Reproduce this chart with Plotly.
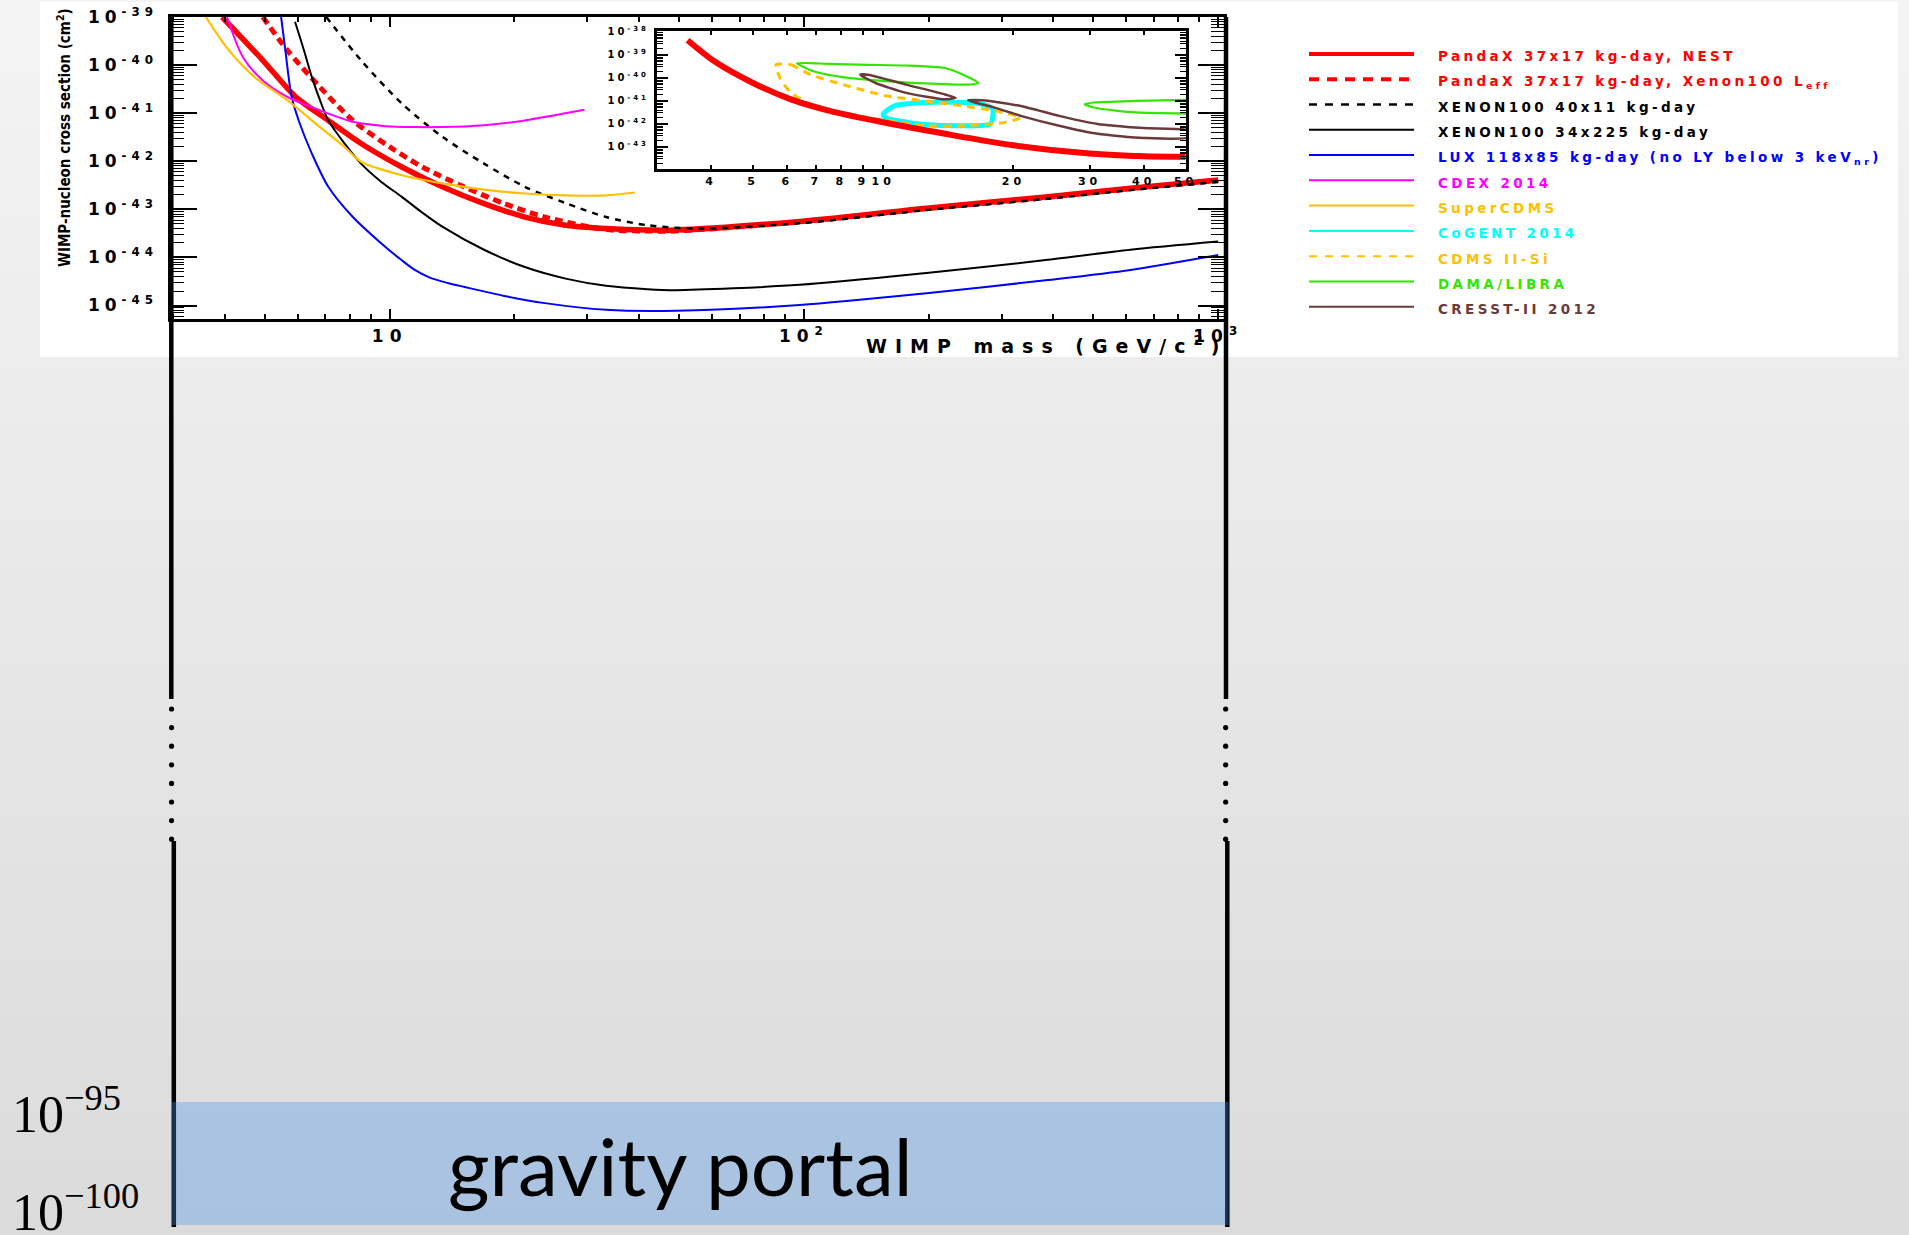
import plotly.graph_objects as go

W, H = 1909, 1235

# ---------------- main panel: WIMP mass [GeV/c^2] vs log10(cross-section [cm^2]) ----------------
NEST_MASS = [3.94, 4.94, 5.93, 7.11, 8.53, 10.7, 13.4, 16.9, 21.2, 26.6, 33.3, 41.9, 49, 97.7, 195, 388, 614, 1000]
NEST_LOGXS = [-39.0, -39.9, -40.66, -41.15, -41.63, -42.12, -42.53, -42.88, -43.16, -43.33, -43.40, -43.43,
              -43.43, -43.25, -42.98, -42.74, -42.56, -42.39]

LEFF_MASS = [4.94, 5.66, 6.79, 8.15, 10.0, 12.0, 15.1, 18.9, 23.7, 33.3, 41.9, 49, 97.7, 195, 388, 614, 1000]
LEFF_LOGXS = [-39.0, -39.69, -40.46, -41.15, -41.70, -42.12, -42.53, -42.88, -43.16, -43.42, -43.45, -43.45,
              -43.26, -42.99, -42.75, -42.57, -42.40]

X100A_MASS = [7.03, 8.53, 10.7, 13.4, 16.9, 21.2, 26.6, 33.3, 41.9, 55, 97.7, 195, 388, 614, 1000]
X100A_LOGXS = [-39.0, -39.90, -40.80, -41.49, -42.05, -42.53, -42.87, -43.16, -43.33, -43.40, -43.29, -43.02,
               -42.78, -42.60, -42.43]

X100B_MASS = [5.91, 6.21, 6.49, 6.79, 7.11, 7.78, 8.53, 9.55, 10.7, 12.0, 13.4, 16.9, 21.2, 26.6, 33.3, 41.9,
              49, 97.7, 195, 388, 614, 1000]
X100B_LOGXS = [-39.10, -39.69, -40.25, -40.73, -41.15, -41.63, -42.05, -42.43, -42.74, -43.07, -43.36, -43.84,
               -44.20, -44.44, -44.59, -44.66, -44.68, -44.57, -44.33, -44.05, -43.84, -43.67]

LUX_MASS = [5.47, 5.6, 5.8, 6.07, 6.49, 7.11, 8.15, 9.55, 10.7, 11.5, 12.5, 13.8, 15.1, 18.9, 23.7, 33.3, 49,
            97.7, 195, 388, 614, 1000]
LUX_LOGXS = [-39.0, -39.69, -40.66, -41.22, -41.84, -42.53, -43.16, -43.71, -44.06, -44.26, -44.42, -44.53,
             -44.61, -44.80, -44.95, -45.09, -45.11, -44.99, -44.75, -44.47, -44.26, -43.95]

CDEX_MASS = [4.05, 4.42, 4.94, 5.66, 6.79, 8.15, 9.8, 11.5, 13.4, 16.9, 21.2, 29.5]
CDEX_LOGXS = [-39.0, -39.83, -40.32, -40.66, -40.94, -41.18, -41.27, -41.29, -41.29, -41.25, -41.15, -40.93]

SCDMS_MASS = [3.6, 4.03, 4.72, 5.66, 6.79, 7.78, 8.53, 10.7, 13.4, 16.9, 21.2, 26.6, 33.3, 39.1]
SCDMS_LOGXS = [-39.0, -39.62, -40.25, -40.73, -41.29, -41.70, -42.01, -42.29, -42.46, -42.59, -42.67, -42.71,
               -42.71, -42.65]

# ---------------- inset panel (low-mass zoom) ----------------
IN_NEST_MASS = [3.53, 4.08, 5.0, 6.12, 7.52, 10, 13.9, 20, 30, 40, 50]
IN_NEST_LOGXS = [-38.36, -39.29, -40.22, -40.93, -41.43, -41.93, -42.43, -42.93, -43.29, -43.41, -43.43]

CDMSSI_MASS = [5.65, 6.12, 6.79, 8.32, 10.2, 12.5, 15.3, 18.1, 20.8, 19.2, 15.3, 12.5, 10.2, 8.32, 6.93, 6.12,
               5.77, 5.65]
CDMSSI_LOGXS = [-39.43, -39.43, -39.86, -40.36, -40.79, -41.00, -41.22, -41.43, -41.72, -41.93, -42.08, -42.08,
                -41.86, -41.58, -41.22, -40.65, -40.00, -39.43]

DAMA1_MASS = [6.32, 7.52, 9.22, 11.3, 13.9, 15.3, 16.6, 15.7, 12.5, 10.2, 8.32, 6.93, 6.32]
DAMA1_LOGXS = [-39.36, -39.39, -39.43, -39.46, -39.57, -39.86, -40.22, -40.29, -40.24, -40.14, -40.00, -39.72,
               -39.36]
DAMA2_MASS = [51, 38.4, 30.7, 29.2, 31.3, 38.4, 51]
DAMA2_LOGXS = [-40.95, -41.00, -41.07, -41.15, -41.32, -41.50, -41.55]

CRESST1_MASS = [8.85, 9.22, 11.3, 13.9, 14.7, 13.9, 11.3, 9.6, 8.85]
CRESST1_LOGXS = [-39.86, -39.86, -40.29, -40.72, -40.86, -40.93, -40.65, -40.22, -39.86]
CRESST2_MASS = [15.7, 17.0, 20.8, 25.5, 31.3, 40.0, 51, 51, 40.0, 31.3, 25.5, 20.8, 18.1, 16.3, 15.7]
CRESST2_LOGXS = [-40.97, -40.97, -41.22, -41.65, -42.00, -42.18, -42.29, -42.58, -42.61, -42.43, -42.08,
                 -41.65, -41.29, -41.07, -40.97]

COGENT_MASS = [10, 10.6, 12.5, 15.3, 17.0, 17.9, 17.9, 17.7, 15.3, 12.5, 10.8, 10.1, 10]
COGENT_LOGXS = [-41.58, -41.22, -41.07, -41.07, -41.15, -41.36, -41.72, -42.00, -42.08, -42.03, -41.86, -41.72,
                -41.58]

# ---------------- ticks / labels ----------------
MAIN_X_TICKS = [10, 100, 1000]
MAIN_X_TICKTEXT = ["10", "10<sup>2</sup>", "10<sup>3</sup>"]
MAIN_Y_EXP = [-45, -44, -43, -42, -41, -40, -39]
INSET_X_TICKS = [4, 5, 6, 7, 8, 9, 10, 20, 30, 40, 50]
INSET_Y_EXP = [-43, -42, -41, -40, -39, -38]

LEGEND_LABELS = [
    "PandaX 37x17 kg-day, NEST",
    "PandaX 37x17 kg-day, Xenon100 L<sub>eff</sub>",
    "XENON100 40x11 kg-day",
    "XENON100 34x225 kg-day",
    "LUX 118x85 kg-day (no LY below 3 keV<sub>nr</sub>)",
    "CDEX 2014",
    "SuperCDMS",
    "CoGENT 2014",
    "CDMS II-Si",
    "DAMA/LIBRA",
    "CRESST-II 2012",
]
RED, BLACK, BLUE, MAGENTA, GOLD, CYAN, GREEN, BROWN = (
    "#ff0000", "#000000", "#0000ff", "#ff00ff", "#ffc000", "#00ffff", "#33e600", "#6b3a3a")
LEGEND_COLORS = [RED, RED, BLACK, BLACK, BLUE, MAGENTA, GOLD, CYAN, GOLD, GREEN, BROWN]
LEGEND_WIDTHS = [4, 4, 2.5, 2, 2, 2, 2, 2, 2, 2, 2]
LEGEND_DASH = ["solid", "10px,8px", "8px,8px", "solid", "solid", "solid", "solid", "solid", "8px,8px",
               "solid", "solid"]

SLIDE_LABELS = ["10<sup>\u221295</sup>", "10<sup>\u2212100</sup>"]
BAND_TEXT = "gravity portal"


def fx(x):
    return x / W


def fy(y):
    return 1 - y / H


def sp(text, ls):
    return f"<span style='letter-spacing:{ls}px'>{text}</span>"


fig = go.Figure()


def add_curve(mass, logxs, color, width, dash="solid", xa="x", ya="y", smooth=0.8):
    fig.add_trace(go.Scatter(
        x=mass, y=[10 ** v for v in logxs], mode="lines",
        line=dict(color=color, width=width, dash=dash, shape="spline", smoothing=smooth),
        xaxis=xa, yaxis=ya, showlegend=False, hoverinfo="skip"))


# main panel curves
add_curve(NEST_MASS, NEST_LOGXS, RED, 5.5)
add_curve(LEFF_MASS, LEFF_LOGXS, RED, 5, dash="8px,5px")
add_curve(X100A_MASS, X100A_LOGXS, BLACK, 2.5, dash="6px,6px")
add_curve(X100B_MASS, X100B_LOGXS, BLACK, 2)
add_curve(LUX_MASS, LUX_LOGXS, BLUE, 2)
add_curve(CDEX_MASS, CDEX_LOGXS, MAGENTA, 2)
add_curve(SCDMS_MASS, SCDMS_LOGXS, GOLD, 2.2)

# inset curves
add_curve(COGENT_MASS, COGENT_LOGXS, CYAN, 5, xa="x2", ya="y2", smooth=0.7)
add_curve(CDMSSI_MASS, CDMSSI_LOGXS, GOLD, 3, dash="8px,6px", xa="x2", ya="y2", smooth=0.6)
add_curve(DAMA1_MASS, DAMA1_LOGXS, GREEN, 2.2, xa="x2", ya="y2", smooth=0.6)
add_curve(DAMA2_MASS, DAMA2_LOGXS, GREEN, 2.2, xa="x2", ya="y2", smooth=0.6)
add_curve(CRESST1_MASS, CRESST1_LOGXS, BROWN, 2.5, xa="x2", ya="y2", smooth=0.6)
add_curve(CRESST2_MASS, CRESST2_LOGXS, BROWN, 2.5, xa="x2", ya="y2", smooth=0.6)
add_curve(IN_NEST_MASS, IN_NEST_LOGXS, RED, 6, xa="x2", ya="y2")

# ---------------- shapes ----------------
shapes = []
NB = 50
for i in range(NB):
    g = round(244 - 25 * (i + 0.5) / NB)
    shapes.append(dict(type="rect", xref="paper", yref="paper", x0=0, x1=1,
                       y0=fy(min(H, (i + 1) * H / NB + 1)), y1=fy(i * H / NB),
                       fillcolor=f"rgb({g},{g},{g})", line=dict(width=0), layer="below"))
shapes.append(dict(type="rect", xref="paper", yref="paper", x0=fx(40), x1=fx(1898), y0=fy(357), y1=fy(2),
                   fillcolor="white", line=dict(width=0), layer="below"))

# slide vertical lines with dotted break
for xa_, xb_ in [(171.3, 173.8), (1226, 1227.3)]:
    shapes.append(dict(type="line", xref="paper", yref="paper", x0=fx(xa_), x1=fx(xa_), y0=fy(17), y1=fy(699),
                       line=dict(color="black", width=4.5), layer="above"))
    shapes.append(dict(type="line", xref="paper", yref="paper", x0=fx(xb_), x1=fx(xb_), y0=fy(841),
                       y1=fy(1227), line=dict(color="black", width=4.5), layer="above"))
    for k in range(8):
        yc = 709 + 18.6 * k
        xc = (xa_ + xb_) / 2 - 1
        shapes.append(dict(type="circle", xref="paper", yref="paper", x0=fx(xc - 2.6), x1=fx(xc + 2.6),
                           y0=fy(yc + 2.6), y1=fy(yc - 2.6), fillcolor="black", line=dict(width=0),
                           layer="above"))

shapes.append(dict(type="rect", xref="paper", yref="paper", x0=fx(172), x1=fx(1228.5), y0=fy(1225),
                   y1=fy(1102), fillcolor="rgba(74,147,235,0.34)", line=dict(width=0), layer="above"))

# legend samples
LEG_Y0, LEG_DY = 54.0, 25.27
annotations = []
for i, (lab, col, wid, dsh) in enumerate(zip(LEGEND_LABELS, LEGEND_COLORS, LEGEND_WIDTHS, LEGEND_DASH)):
    yy = LEG_Y0 + i * LEG_DY
    shapes.append(dict(type="line", xref="paper", yref="paper", x0=fx(1309), x1=fx(1414), y0=fy(yy), y1=fy(yy),
                       line=dict(color=col, width=wid, dash=dsh), layer="above"))
    annotations.append(dict(xref="paper", yref="paper", x=fx(1436), y=fy(yy + 2.5), xanchor="left",
                            yanchor="middle", showarrow=False, text=sp(lab, 3.4),
                            font=dict(family="DejaVu Sans", size=13.5, color=col, weight="bold")))

# axis titles
annotations.append(dict(xref="paper", yref="paper", x=fx(64), y=fy(138), xanchor="center", yanchor="middle",
                        textangle=-90, showarrow=False,
                        text="WIMP-nucleon cross section (cm<sup>2</sup>)",
                        font=dict(family="Liberation Sans Narrow, DejaVu Sans Condensed, sans-serif", size=15,
                                  color="black", weight="bold")))
annotations.append(dict(xref="paper", yref="paper", x=fx(1229), y=fy(345), xanchor="right", yanchor="middle",
                        showarrow=False, text=sp("WIMP mass (GeV/c<sup>2</sup>)", 8),
                        font=dict(family="DejaVu Sans", size=19, color="black", weight="bold")))

# slide labels
for lab, yc in zip(SLIDE_LABELS, [1110, 1208]):
    annotations.append(dict(xref="paper", yref="paper", x=fx(10), y=fy(yc), xanchor="left", yanchor="middle",
                            showarrow=False, text=lab,
                            font=dict(family="Liberation Serif, DejaVu Serif, serif", size=52, color="black")))
annotations.append(dict(xref="paper", yref="paper", x=fx(680), y=fy(1165), xanchor="center", yanchor="middle",
                        showarrow=False, text=BAND_TEXT,
                        font=dict(family="Lato, Open Sans, sans-serif", size=80, color="black")))

# ---------------- axes ----------------
main_minor_y = [k * 10.0 ** e for e in range(-46, -39) for k in range(2, 10)]
main_minor_x = [k * 10.0 ** e for e in range(0, 3) for k in range(2, 10)]
inset_minor_y = [k * 10.0 ** e for e in range(-44, -38) for k in range(2, 10)]

tickfont_main = dict(family="DejaVu Sans", size=17, color="black", weight="bold")
tickfont_in = dict(family="DejaVu Sans", size=11, color="black", weight="bold")

fig.update_layout(
    template="none",
    width=W, height=H, margin=dict(l=0, r=0, t=0, b=0, pad=0, autoexpand=False), autosize=False,
    paper_bgcolor="#eeeeee", plot_bgcolor="rgba(0,0,0,0)", showlegend=False,
    shapes=shapes, annotations=annotations,
    xaxis=dict(domain=[fx(170.5), fx(1224)], anchor="y", type="log", range=[0.471, 3.014], automargin=False,
               showline=True, linewidth=3, linecolor="black", mirror="ticks", ticks="inside", ticklen=10,
               tickwidth=2, tickcolor="black", tickmode="array", tickvals=MAIN_X_TICKS,
               ticktext=[sp(t, 6) for t in MAIN_X_TICKTEXT], tickfont=tickfont_main,
               minor=dict(tickmode="array", tickvals=main_minor_x, ticks="inside", ticklen=5, tickwidth=1.5,
                          tickcolor="black", showgrid=False),
               showgrid=False, zeroline=False, fixedrange=True),
    yaxis=dict(domain=[fy(319), fy(17)], anchor="x", type="log", range=[-45.28, -39.0], automargin=False,
               showline=True, linewidth=3, linecolor="black", mirror="ticks", ticks="inside", ticklen=26,
               tickwidth=2, tickcolor="black", tickmode="array", tickvals=[10.0 ** e for e in MAIN_Y_EXP],
               ticktext=[sp(f"10<sup>{e}</sup>", 5) for e in MAIN_Y_EXP], tickfont=tickfont_main,
               ticklabelstandoff=6,
               minor=dict(tickmode="array", tickvals=main_minor_y, ticks="inside", ticklen=13, tickwidth=1,
                          tickcolor="black", showgrid=False),
               showgrid=False, zeroline=False, fixedrange=True),
    xaxis2=dict(domain=[fx(657), fx(1186)], anchor="y2", type="log", range=[0.477, 1.70], automargin=False,
                showline=True, linewidth=3, linecolor="black", mirror="ticks", ticks="inside", ticklen=4,
                tickwidth=2, tickcolor="black", tickmode="array", tickvals=INSET_X_TICKS,
                ticktext=[sp(str(t), 4) for t in INSET_X_TICKS], tickfont=tickfont_in,
                showgrid=False, zeroline=False, fixedrange=True),
    yaxis2=dict(domain=[fy(169), fy(31)], anchor="x2", type="log", range=[-43.96, -37.96], automargin=False,
                showline=True, linewidth=3, linecolor="black", mirror="ticks", ticks="inside", ticklen=11,
                tickwidth=2, tickcolor="black", tickmode="array", tickvals=[10.0 ** e for e in INSET_Y_EXP],
                ticktext=[sp(f"10<sup>{e}</sup>", 3) for e in INSET_Y_EXP],
                tickfont=dict(family="DejaVu Sans", size=10, color="black", weight="bold"),
                ticklabelstandoff=3,
                minor=dict(tickmode="array", tickvals=inset_minor_y, ticks="inside", ticklen=6, tickwidth=1,
                           tickcolor="black", showgrid=False),
                showgrid=False, zeroline=False, fixedrange=True),
)

fig.write_html("out.html")
